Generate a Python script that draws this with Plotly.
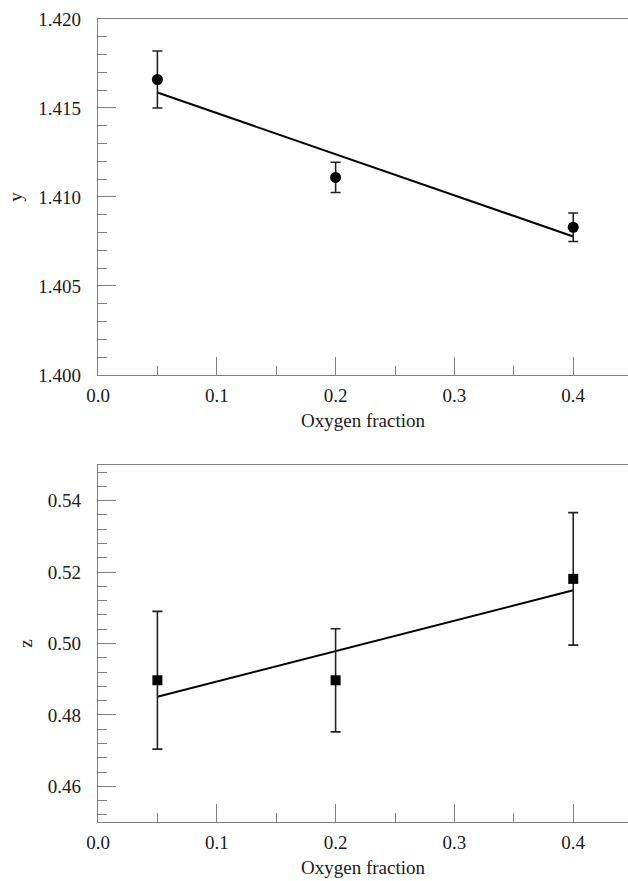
import plotly.graph_objects as go
from plotly.subplots import make_subplots

# ---- data ----
oxygen = [0.05, 0.2, 0.4]
y_vals = [1.4166, 1.4111, 1.4083]
y_err = [0.0016, 0.00085, 0.0008]
z_vals = [0.4897, 0.4897, 0.5181]
z_err = [0.0193, 0.01445, 0.01855]
fit_x = [0.05, 0.4]
fit_y = [1.41587, 1.40778]
fit_z = [0.4851, 0.5149]

FONT = "'Liberation Serif', 'Times New Roman', Times, serif"
AX = "#808080"
TXT = "#1a1a1a"

fig = make_subplots(rows=2, cols=1, vertical_spacing=0.0)

fig.add_trace(go.Scatter(x=fit_x, y=fit_y, mode="lines",
                         line=dict(color="black", width=2), showlegend=False), row=1, col=1)
fig.add_trace(go.Scatter(x=oxygen, y=y_vals, mode="markers",
                         marker=dict(symbol="circle", size=11, color="black"),
                         error_y=dict(type="data", array=y_err, visible=True,
                                      color="#222", thickness=1.6, width=5),
                         showlegend=False), row=1, col=1)

fig.add_trace(go.Scatter(x=fit_x, y=fit_z, mode="lines",
                         line=dict(color="black", width=2), showlegend=False), row=2, col=1)
fig.add_trace(go.Scatter(x=oxygen, y=z_vals, mode="markers",
                         marker=dict(symbol="square", size=10, color="black"),
                         error_y=dict(type="data", array=z_err, visible=True,
                                      color="#222", thickness=1.6, width=5),
                         showlegend=False), row=2, col=1)

xcommon = dict(range=[0, 0.4461], dtick=0.1, tick0=0, tickformat=".1f",
               ticks="inside", ticklen=18, tickwidth=1.3, tickcolor=AX,
               showline=True, linecolor=AX, linewidth=1.3, mirror=True,
               showgrid=False, zeroline=False, ticklabelstandoff=3,
               minor=dict(ticks="inside", dtick=0.05, ticklen=9, tickwidth=1.3, tickcolor=AX),
               tickfont=dict(family=FONT, size=19, color=TXT),
               title=dict(text="Oxygen fraction", font=dict(family=FONT, size=19, color=TXT),
                          standoff=8))

fig.update_xaxes(**xcommon, row=1, col=1)
fig.update_xaxes(**xcommon, row=2, col=1)

ycommon = dict(ticks="inside", ticklen=18, tickwidth=1.3, tickcolor=AX,
               showline=True, linecolor=AX, linewidth=1.3, mirror=False,
               showgrid=False, zeroline=False, ticklabelstandoff=12,
               tickfont=dict(family=FONT, size=19, color=TXT))

fig.update_yaxes(**ycommon, range=[1.400, 1.420], dtick=0.005, tick0=1.400, tickformat=".3f",
                 minor=dict(ticks="inside", dtick=0.001, ticklen=9, tickwidth=1.3, tickcolor=AX),
                 title=dict(text="y", font=dict(family=FONT, size=19, color=TXT), standoff=10),
                 domain=[0.5567, 1.0], row=1, col=1)
fig.update_yaxes(**ycommon, range=[0.45, 0.55], dtick=0.02, tick0=0.46, tickformat=".2f",
                 minor=dict(ticks="inside", dtick=0.004, ticklen=9, tickwidth=1.3, tickcolor=AX),
                 title=dict(text="z", font=dict(family=FONT, size=19, color=TXT), standoff=10),
                 domain=[0.0, 0.4446], row=2, col=1)

fig.update_layout(width=628, height=881, margin=dict(l=98, r=0, t=19, b=59),
                  paper_bgcolor="white", plot_bgcolor="white",
                  font=dict(family=FONT, color=TXT))

fig.write_html("out.html")
